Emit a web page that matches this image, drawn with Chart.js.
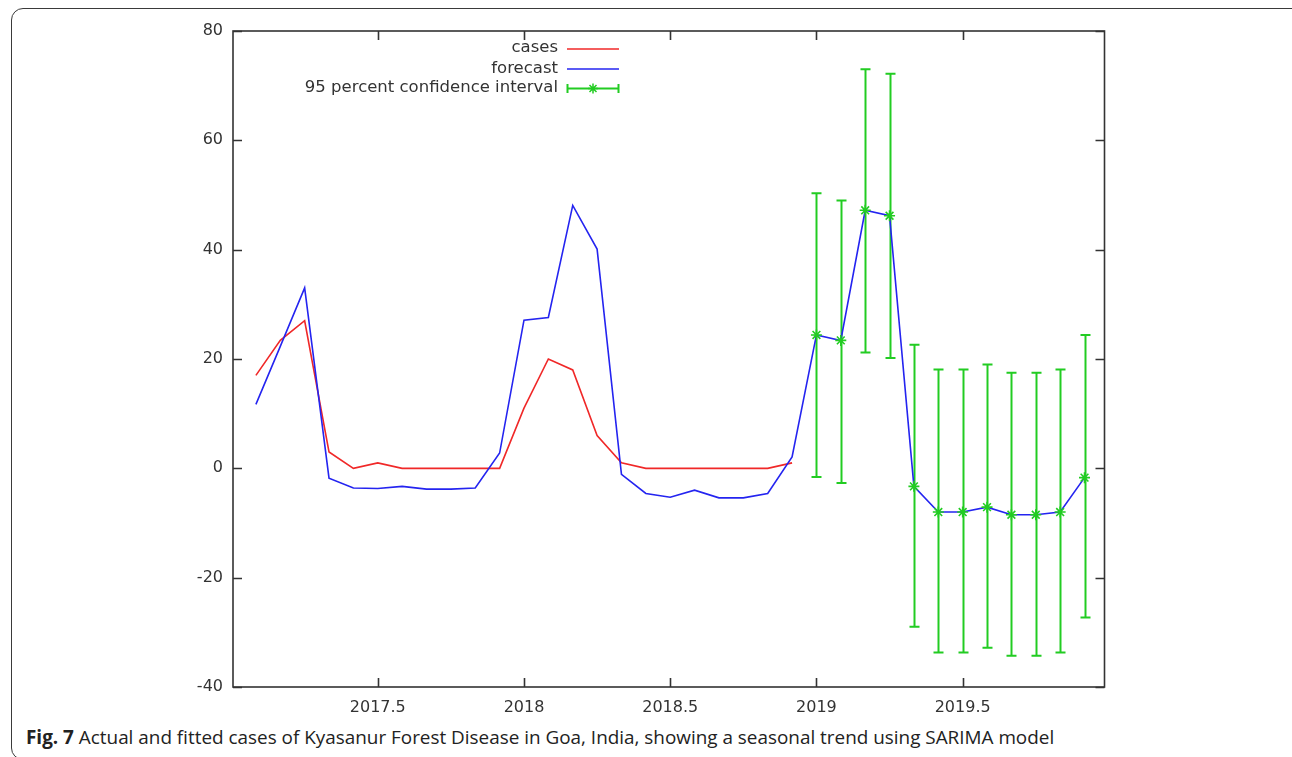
<!DOCTYPE html>
<html><head><meta charset="utf-8">
<script src="https://cdn.jsdelivr.net/npm/chart.js@4.4.0/dist/chart.umd.min.js"></script>
<style>
html,body{margin:0;padding:0;background:#fff;width:1292px;height:757px;overflow:hidden;position:relative}
#frame{position:absolute;left:11px;top:8px;width:1300px;height:752px;border:1.5px solid #3a3a3a;border-radius:12px;box-sizing:border-box}
#wrap{position:absolute;left:0;top:0;width:1292px;height:724px}
#cap{position:absolute;left:26px;top:728px;font-family:'Open Sans';font-size:18.9px;line-height:19px;color:#222;white-space:nowrap}
#cap b{font-weight:700}
</style></head><body>
<div id="frame"></div>
<div id="wrap"><canvas id="c" width="1292" height="724"></canvas></div>
<div id="cap"><b>Fig. 7</b> Actual and fitted cases of Kyasanur Forest Disease in Goa, India, showing a seasonal trend using SARIMA model</div>
<script>
// ---- data ----
const months = [2017.0833, 2017.1667, 2017.25, 2017.3333, 2017.4167, 2017.5, 2017.5833, 2017.6667, 2017.75, 2017.8333, 2017.9167,
  2018.0, 2018.0833, 2018.1667, 2018.25, 2018.3333, 2018.4167, 2018.5, 2018.5833, 2018.6667, 2018.75, 2018.8333, 2018.9167,
  2019.0, 2019.0833, 2019.1667, 2019.25, 2019.3333, 2019.4167, 2019.5, 2019.5833, 2019.6667, 2019.75, 2019.8333, 2019.9167];
const cases = [17, 23.4, 27, 3, 0, 1, 0, 0, 0, 0, 0, 11, 20, 18, 6, 1, 0, 0, 0, 0, 0, 0, 1];
const forecast = [11.7, 22.3, 33, -1.8, -3.6, -3.7, -3.3, -3.8, -3.8, -3.6, 2.8, 27.1, 27.6, 48.1, 40.1, -1.1, -4.6, -5.3, -4.0, -5.4, -5.4, -4.6, 2.1,
  24.4, 23.4, 47.2, 46.2, -3.3, -8, -8, -7.1, -8.5, -8.5, -8, -1.7];
const ciMonths = [2019.0, 2019.0833, 2019.1667, 2019.25, 2019.3333, 2019.4167, 2019.5, 2019.5833, 2019.6667, 2019.75, 2019.8333, 2019.9167];
const ciCenter = [24.4, 23.4, 47.2, 46.2, -3.3, -8, -8, -7.1, -8.5, -8.5, -8, -1.7];
const ciUpper = [50.3, 49, 73, 72.2, 22.6, 18.1, 18.1, 19, 17.5, 17.5, 18.1, 24.4];
const ciLower = [-1.6, -2.7, 21.2, 20.2, -29, -33.7, -33.7, -32.8, -34.3, -34.3, -33.7, -27.3];
const xTicks = [2017.5, 2018, 2018.5, 2019, 2019.5];
const yTicks = [-40, -20, 0, 20, 40, 60, 80];
const seriesNames = ['cases', 'forecast', '95 percent confidence interval'];

const RED = '#f02828', BLUE = '#2424f0', GREEN = '#22cc22', AX = '#333333';
const FONT = "'DejaVu Sans', Verdana, sans-serif";

const pts = (xs, ys) => ys.map((v, i) => ({x: xs[i], y: v}));

const errorBars = {
  id: 'errorBars',
  beforeDatasetsDraw(chart) {
    const {ctx, scales: {x, y}} = chart;
    ctx.save();
    ctx.beginPath();
    ctx.rect(chart.chartArea.left, chart.chartArea.top, chart.chartArea.width, chart.chartArea.height);
    ctx.clip();
    ctx.strokeStyle = GREEN; ctx.lineWidth = 2;
    ciMonths.forEach((m, i) => {
      const px = Math.round(x.getPixelForValue(m)) + 0.5;
      const pu = y.getPixelForValue(ciUpper[i]);
      const pl = y.getPixelForValue(ciLower[i]);
      ctx.beginPath();
      ctx.moveTo(px, pu); ctx.lineTo(px, pl);
      ctx.moveTo(px - 5, pu); ctx.lineTo(px + 5, pu);
      ctx.moveTo(px - 5, pl); ctx.lineTo(px + 5, pl);
      ctx.stroke();
    });
    ctx.restore();
  }
};

const frameTicks = {
  id: 'frameTicks',
  afterDraw(chart) {
    const {ctx, chartArea: a, scales: {x, y}} = chart;
    ctx.save();
    ctx.strokeStyle = AX; ctx.lineWidth = 1.6;
    ctx.strokeRect(a.left, a.top, a.right - a.left, a.bottom - a.top);
    const L = 9;
    ctx.beginPath();
    xTicks.forEach(v => {
      const px = Math.round(x.getPixelForValue(v)) + 0.5;
      ctx.moveTo(px, a.bottom); ctx.lineTo(px, a.bottom - L);
      ctx.moveTo(px, a.top); ctx.lineTo(px, a.top + L);
    });
    yTicks.forEach(v => {
      const py = Math.round(y.getPixelForValue(v)) + 0.5;
      ctx.moveTo(a.left, py); ctx.lineTo(a.left + L, py);
      ctx.moveTo(a.right, py); ctx.lineTo(a.right - L, py);
    });
    ctx.stroke();

    // gnuplot-style key (text right-aligned, sample on the right)
    const tx = 558, sx0 = 567, sx1 = 619, rows = [48, 68.5, 88];
    ctx.font = '16.5px ' + FONT;
    ctx.fillStyle = AX; ctx.textAlign = 'right'; ctx.textBaseline = 'middle';
    chart.data.datasets.forEach((ds, i) => {
      ctx.fillText(ds.label, tx, rows[i]);
    });
    ctx.lineWidth = 1.6;
    ctx.strokeStyle = RED;
    ctx.beginPath(); ctx.moveTo(sx0, rows[0] + 1); ctx.lineTo(sx1, rows[0] + 1); ctx.stroke();
    ctx.strokeStyle = BLUE;
    ctx.beginPath(); ctx.moveTo(sx0, rows[1] + 0.5); ctx.lineTo(sx1, rows[1] + 0.5); ctx.stroke();
    ctx.strokeStyle = GREEN; ctx.lineWidth = 2;
    const r2 = rows[2] + 0.5;
    ctx.beginPath();
    ctx.moveTo(sx0, r2); ctx.lineTo(sx1, r2);
    ctx.moveTo(sx0 + 0.5, r2 - 4.5); ctx.lineTo(sx0 + 0.5, r2 + 4.5);
    ctx.moveTo(sx1 - 0.5, r2 - 4.5); ctx.lineTo(sx1 - 0.5, r2 + 4.5);
    ctx.stroke();
    const cx = (sx0 + sx1) / 2, s = 5;
    ctx.lineWidth = 1.5;
    ctx.beginPath();
    ctx.moveTo(cx - s, r2); ctx.lineTo(cx + s, r2);
    ctx.moveTo(cx, r2 - s); ctx.lineTo(cx, r2 + s);
    ctx.moveTo(cx - s * 0.7, r2 - s * 0.7); ctx.lineTo(cx + s * 0.7, r2 + s * 0.7);
    ctx.moveTo(cx - s * 0.7, r2 + s * 0.7); ctx.lineTo(cx + s * 0.7, r2 - s * 0.7);
    ctx.stroke();
    ctx.restore();
  }
};

new Chart(document.getElementById('c'), {
  type: 'scatter',
  data: {
    datasets: [
      {label: seriesNames[0], data: pts(months, cases), showLine: true, borderColor: RED, borderWidth: 1.6,
       pointRadius: 0, tension: 0, order: 2},
      {label: seriesNames[1], data: pts(months, forecast), showLine: true, borderColor: BLUE, borderWidth: 1.6,
       pointRadius: 0, tension: 0, order: 1},
      {label: seriesNames[2], data: pts(ciMonths, ciCenter), showLine: false, borderColor: GREEN, backgroundColor: GREEN,
       pointStyle: 'star', pointRadius: 5.5, borderWidth: 1.6, order: 0}
    ]
  },
  options: {
    responsive: false,
    animation: false,
    events: [],
    layout: {padding: {left: 0, top: 31, right: 187.5, bottom: 0}},
    plugins: {legend: {display: false}, tooltip: {enabled: false}, title: {display: false}},
    scales: {
      x: {
        type: 'linear', min: 2017.005, max: 2019.985,
        grid: {display: false, drawTicks: false},
        border: {display: false},
        afterBuildTicks: s => { s.ticks = xTicks.map(v => ({value: v})); },
        afterFit: s => { s.height = 37; },
        ticks: {padding: 11, color: AX, font: {family: FONT, size: 16}, maxRotation: 0, autoSkip: false,
                callback: v => String(v)}
      },
      y: {
        type: 'linear', min: -40, max: 80,
        grid: {display: false, drawTicks: false},
        border: {display: false},
        afterBuildTicks: s => { s.ticks = yTicks.map(v => ({value: v})); },
        afterFit: s => { s.width = 233; },
        ticks: {padding: 10, color: AX, font: {family: FONT, size: 16}, autoSkip: false,
                callback: v => String(v)}
      }
    }
  },
  plugins: [errorBars, frameTicks]
});
</script>
</body></html>
